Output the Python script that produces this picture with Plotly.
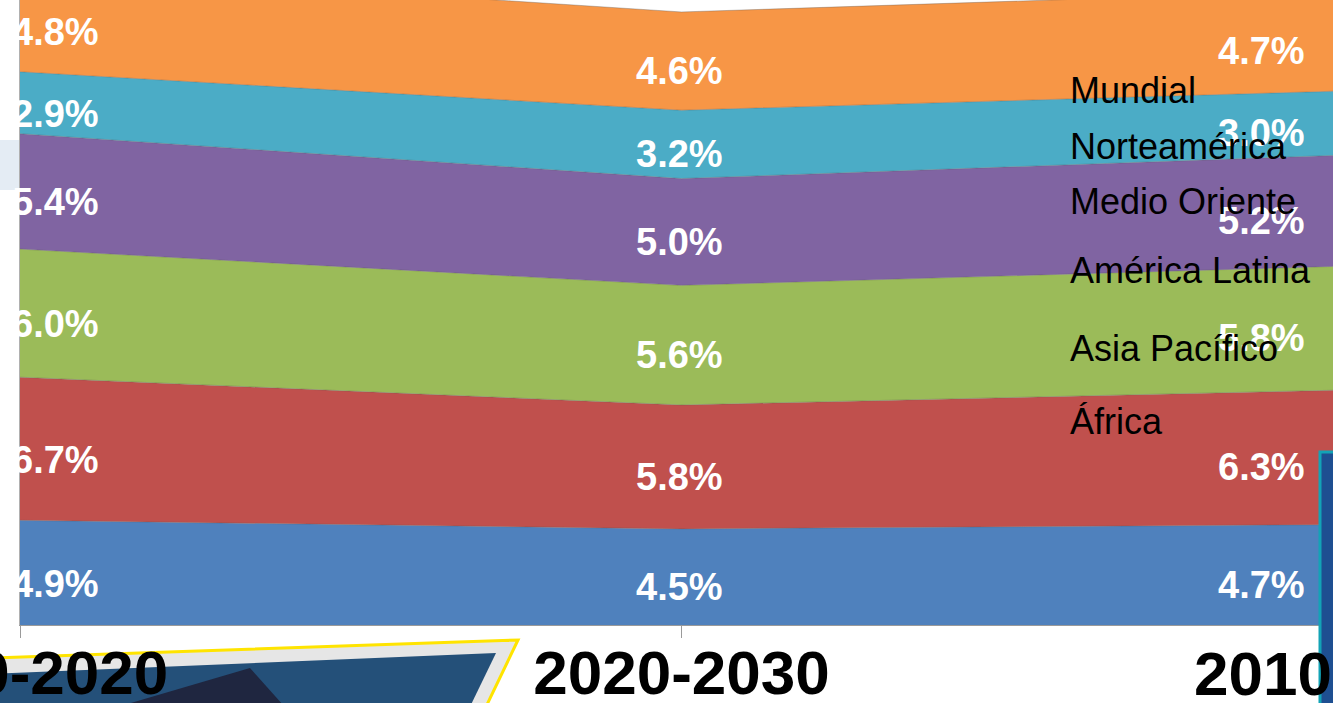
import plotly.graph_objects as go

# ---------------- data ----------------
periods = ["2010-2020", "2020-2030", "2010-2030"]
# series listed bottom -> top of the stack
regions = ["África", "Asia Pacífico", "América Latina", "Medio Oriente", "Norteamérica", "Mundial"]
africa = [4.9, 4.5, 4.7]
asia_pacifico = [6.7, 5.8, 6.3]
america_latina = [6.0, 5.6, 5.8]
medio_oriente = [5.4, 5.0, 5.2]
norteamerica = [2.9, 3.2, 3.0]
mundial = [4.8, 4.6, 4.7]
series = [africa, asia_pacifico, america_latina, medio_oriente, norteamerica, mundial]
colors = ["#4F81BD", "#C0504D", "#9BBB59", "#8064A2", "#4BACC6", "#F79646"]

# ---------------- layout constants ----------------
W, H = 1333, 703
ML, MB = 20, 78
X_RANGE = [0, 1.985]
Y_RANGE = [0, 29.26]
PW = W - ML
PH = H - MB

def P(px, py):
    return (px - ML) / PW, (PH - py) / PH

xs = list(range(len(periods)))
fig = go.Figure()
for name, vals, col in zip(regions, series, colors):
    fig.add_trace(go.Scatter(
        x=xs, y=vals, name=name, mode="lines", stackgroup="one",
        fillcolor=col, line=dict(color="rgba(90,90,90,0.35)", width=1),
        hoverinfo="x+y+name"))

# ---------------- value labels ----------------
annotations = []
base = [0.0] * len(periods)
lab_font = dict(family="Liberation Sans", size=38, color="white", weight=700)
for vals in series:
    for j, v in enumerate(vals):
        yc = base[j] + v / 2
        txt = f"{v:.1f}%"
        if j == 0:
            annotations.append(dict(x=xs[0], y=yc, xref="x", yref="y", text=txt,
                                    showarrow=False, xanchor="left", xshift=-10,
                                    yshift=-11, font=lab_font))
        elif j == 1:
            annotations.append(dict(x=xs[1], y=yc, xref="x", yref="y", text=txt,
                                    showarrow=False, xanchor="center", xshift=-2,
                                    yshift=-10, font=lab_font))
        else:
            xp = (xs[2] - X_RANGE[0]) / (X_RANGE[1] - X_RANGE[0])
            annotations.append(dict(x=xp, y=yc, xref="paper", yref="y", text=txt,
                                    showarrow=False, xanchor="right", xshift=-36,
                                    yshift=-10, font=lab_font))
    base = [b + v for b, v in zip(base, vals)]

# right-hand category label (outside visible range)
xp2 = (xs[2] - X_RANGE[0]) / (X_RANGE[1] - X_RANGE[0])
annotations.append(dict(x=xp2, y=P(0, 673)[1], xref="paper", yref="paper",
                        text=periods[2], showarrow=False, xanchor="center",
                        yanchor="middle",
                        font=dict(family="Liberation Sans", size=62, color="black", weight=700)))

# legend-like labels
legend_py = [90, 146, 201, 270, 348, 421]
for name, py in zip(regions[::-1], legend_py):
    xx, yy = P(1071, py)
    annotations.append(dict(x=xx, y=yy, xref="paper", yref="paper", text=name,
                            showarrow=False, xanchor="left", yanchor="middle",
                            xshift=-3,
                            font=dict(family="Liberation Sans", size=36, color="black")))

# ---------------- decorations ----------------
def path(points):
    pts = [P(*p) for p in points]
    return "M " + " L ".join(f"{a:.5f},{b:.5f}" for a, b in pts) + " Z"

shapes = [
    dict(type="path", xref="paper", yref="paper", layer="below",
         path=path([(-10, 140), (19, 140), (19, 190), (-10, 190)]),
         fillcolor="#E4ECF4", line=dict(width=0)),
    dict(type="path", xref="paper", yref="paper", layer="below",
         path=path([(-10, 658), (518, 640), (482, 715), (-10, 715)]),
         fillcolor="#E6E6E6", line=dict(color="#FFE400", width=3)),
    dict(type="path", xref="paper", yref="paper", layer="below",
         path=path([(-10, 674), (496, 653), (466, 715), (-10, 715)]),
         fillcolor="#245079", line=dict(width=0)),
    dict(type="path", xref="paper", yref="paper", layer="below",
         path=path([(250, 668), (292, 715), (90, 715)]),
         fillcolor="#1F2640", line=dict(width=0)),
    dict(type="path", xref="paper", yref="paper", layer="above",
         path=path([(1320, 452), (1350, 452), (1350, 715), (1320, 715)]),
         fillcolor="#1E4F91", line=dict(color="#13A3B6", width=3)),
]

fig.update_layout(
    width=W, height=H,
    margin=dict(l=ML, r=0, t=0, b=MB, pad=0, autoexpand=False),
    paper_bgcolor="white", plot_bgcolor="white",
    showlegend=False,
    annotations=annotations,
    shapes=shapes,
    xaxis=dict(range=X_RANGE, tickmode="array", tickvals=xs, ticktext=periods,
               automargin=False, ticklabelstandoff=-18, ticklabeloverflow="allow",
               showgrid=False, zeroline=False, showline=True, linecolor="#9A9A9A",
               linewidth=1, ticks="outside", ticklen=12, tickcolor="#9A9A9A",
               tickfont=dict(family="Liberation Sans", size=62, color="black", weight=700)),
    yaxis=dict(range=Y_RANGE, showgrid=False, zeroline=False, showticklabels=False,
               automargin=False,
               showline=True, linecolor="#B0B0B0", ticks=""),
)

fig.write_html("out.html", config={"displayModeBar": False},
               post_script="document.body.style.margin='0';document.body.style.overflow='hidden';")
